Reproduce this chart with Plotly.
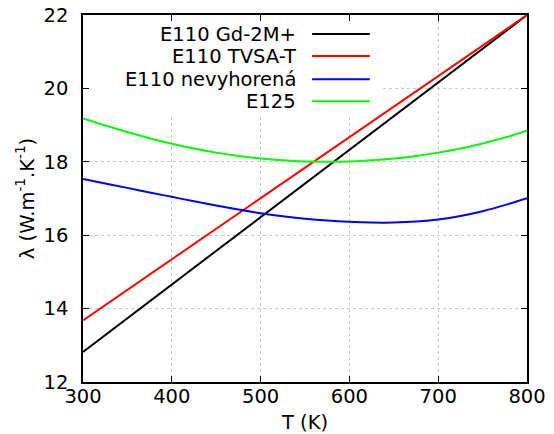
import plotly.graph_objects as go

T = [300, 325, 350, 375, 400, 425, 450, 475, 500, 525, 550, 575, 600, 625, 650, 675, 700, 725, 750, 775, 800]
T_lin = [300, 800]
gd2m = [12.82, 22.0]
tvsat = [13.68, 22.0]
nevyh = [17.53, 17.41, 17.29, 17.165, 17.045, 16.925, 16.81, 16.70, 16.60, 16.515, 16.45,
         16.40, 16.365, 16.345, 16.345, 16.37, 16.43, 16.525, 16.655, 16.82, 17.01]
e125 = [19.18, 18.99, 18.81, 18.64, 18.49, 18.36, 18.25, 18.16, 18.09, 18.04, 18.01,
        18.00, 18.01, 18.04, 18.09, 18.16, 18.25, 18.36, 18.50, 18.66, 18.85]

names = ["E110 Gd-2M+", "E110 TVSA-T", "E110 nevyhorená", "E125"]
xs = [T_lin, T_lin, T, T]
series = [gd2m, tvsat, nevyh, e125]
colors = ["#000000", "#ff0000", "#0000ff", "#00ff00"]

xticks = [300, 400, 500, 600, 700, 800]
yticks = [12, 14, 16, 18, 20, 22]

FONT = "DejaVu Sans"
FS = 19.5
fig = go.Figure()
for n, x, s, c in zip(names, xs, series, colors):
    fig.add_trace(go.Scatter(x=x, y=s, mode="lines", name=n,
                             line=dict(color=c, width=2, shape="spline", smoothing=1.0),
                             showlegend=False))

# opaque key box (hides grid behind key, gnuplot "key opaque")
fig.add_shape(type="rect", xref="x", yref="y", x0=300, x1=638, y0=19.3, y1=22,
              fillcolor="white", line=dict(width=0), layer="between")
# legend entries (text left, sample right, gnuplot style)
ys = [0.948, 0.888, 0.825, 0.765]
for n, c, yy in zip(names, colors, ys):
    fig.add_annotation(xref="paper", yref="paper", x=0.4805, y=yy, text=n, showarrow=False,
                       xanchor="right", yanchor="middle", xshift=2,
                       font=dict(family=FONT, size=FS, color="black"))
    fig.add_shape(type="line", xref="paper", yref="paper", x0=0.516, x1=0.646, y0=yy, y1=yy,
                  line=dict(color=c, width=2))

axis_common = dict(showline=True, linecolor="black", linewidth=1.5, mirror="ticks",
                   ticks="inside", ticklen=6, tickcolor="black", tickwidth=1,
                   showgrid=True, gridcolor="#c8c8c8", griddash="dot", gridwidth=1,
                   zeroline=False, automargin=False,
                   tickfont=dict(family=FONT, size=FS, color="black"))
fig.update_xaxes(range=[300, 800], tickvals=xticks, ticktext=[str(v) for v in xticks],
                 ticklabelstandoff=-4,
                 title=dict(text="T (K)", font=dict(family=FONT, size=FS, color="black"), standoff=12),
                 **axis_common)
fig.update_yaxes(range=[12, 22], tickvals=yticks, ticktext=[str(v) for v in yticks],
                 ticklabelstandoff=9,
                 title=dict(text="λ (W.m<sup>-1</sup>.K<sup>-1</sup>)",
                            font=dict(family=FONT, size=FS, color="black"), standoff=4),
                 **axis_common)
fig.update_layout(width=554, height=434, margin=dict(l=83, r=27, t=15, b=52),
                  plot_bgcolor="white", paper_bgcolor="white", showlegend=False)
fig.write_html("out.html")
